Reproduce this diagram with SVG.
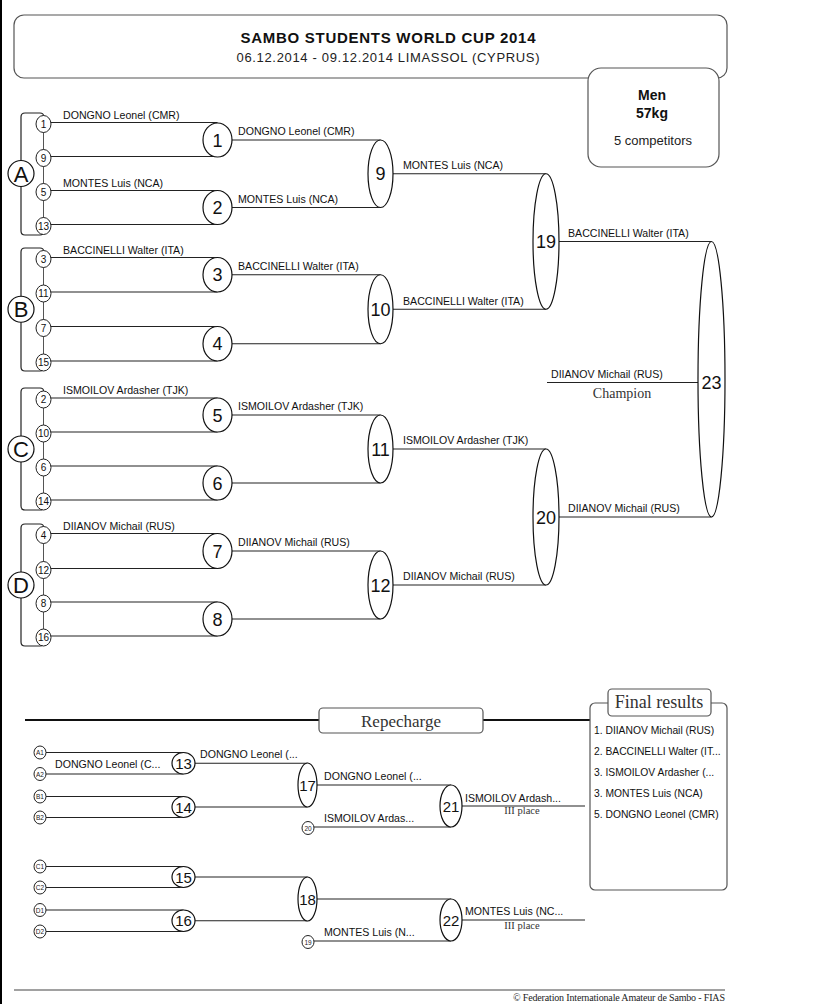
<svg xmlns="http://www.w3.org/2000/svg" width="819" height="1004" viewBox="0 0 819 1004">
<style>
.bg{fill:#fff}
.ln{stroke:#222;stroke-width:1.2;fill:none}
.thin{stroke:#555;stroke-width:1;fill:none}
.thick{stroke:#111;stroke-width:2;fill:none}
.el{fill:#fff;stroke:#111;stroke-width:1.2}
.sm{fill:#fff;stroke:#222;stroke-width:1}
.box{fill:#fff;stroke:#555;stroke-width:1.2}
.name{font-family:"Liberation Sans",Arial,sans-serif;font-size:10.6px;fill:#111}
.res{font-family:"Liberation Sans",Arial,sans-serif;font-size:10.3px;fill:#111}
.rname{font-family:"Liberation Sans",Arial,sans-serif;font-size:10.6px;fill:#111}
.seed{font-family:"Liberation Sans",Arial,sans-serif;font-size:10px;fill:#111;text-anchor:middle}
.tiny{font-family:"Liberation Sans",Arial,sans-serif;font-size:6.5px;fill:#222;text-anchor:middle}
.num{font-family:"Liberation Sans",Arial,sans-serif;font-size:18px;fill:#111;text-anchor:middle}
.rnum{font-family:"Liberation Sans",Arial,sans-serif;font-size:15px;fill:#111;text-anchor:middle}
.pool{font-family:"Liberation Sans",Arial,sans-serif;font-size:22px;fill:#111;text-anchor:middle}
.serif{font-family:"Liberation Serif","Times New Roman",serif;fill:#333;text-anchor:middle}
</style>
<rect class="bg" x="0" y="0" width="819" height="1004"/>
<rect x="0" y="0" width="2" height="1004" fill="#000"/>

<g id="header">
<rect class="box" x="14" y="15" width="713" height="63" rx="10"/>
<text x="388" y="43" text-anchor="middle" font-family="Liberation Sans,Arial,sans-serif" font-size="15" font-weight="bold" fill="#111" textLength="295">SAMBO STUDENTS WORLD CUP 2014</text>
<text x="388" y="62" text-anchor="middle" font-family="Liberation Sans,Arial,sans-serif" font-size="13" fill="#222" textLength="303">06.12.2014 - 09.12.2014 LIMASSOL  (CYPRUS)</text>
</g>
<g id="category">
<rect class="box" x="588" y="68" width="131" height="99" rx="13"/>
<text x="652" y="100" text-anchor="middle" font-family="Liberation Sans,Arial,sans-serif" font-size="14" font-weight="bold" fill="#111">Men</text>
<text x="652" y="118" text-anchor="middle" font-family="Liberation Sans,Arial,sans-serif" font-size="14" font-weight="bold" fill="#111">57kg</text>
<text x="653" y="145" text-anchor="middle" font-family="Liberation Sans,Arial,sans-serif" font-size="13" fill="#222">5 competitors</text>
</g>

<g id="connectors">
<path class="ln" d="M43.5 116 Q43.5 113 40 113 L25 113 Q21 113 21 117 L21 231 Q21 235 25 235 L40 235 Q43.5 235 43.5 232"/>
<path class="ln" d="M43.5 251 Q43.5 248 40 248 L25 248 Q21 248 21 252 L21 367 Q21 371 25 371 L40 371 Q43.5 371 43.5 368"/>
<path class="ln" d="M43.5 391 Q43.5 388 40 388 L25 388 Q21 388 21 392 L21 506 Q21 510 25 510 L40 510 Q43.5 510 43.5 507"/>
<path class="ln" d="M43.5 527 Q43.5 524 40 524 L25 524 Q21 524 21 528 L21 642 Q21 646 25 646 L40 646 Q43.5 646 43.5 643"/>
<line class="thin" x1="43.5" y1="124" x2="43.5" y2="226"/>
<line class="thin" x1="43.5" y1="259" x2="43.5" y2="362"/>
<line class="thin" x1="43.5" y1="399" x2="43.5" y2="501"/>
<line class="thin" x1="43.5" y1="535" x2="43.5" y2="637"/>
<path class="ln" d="M50 122.5H217.5M50 156.5H217.5M50 190.5H217.5M50 224.5H217.5"/>
<path class="ln" d="M50 257.5H217.5M50 292H217.5M50 326.5H217.5M50 361H217.5"/>
<path class="ln" d="M50 398H217.5M50 432H217.5M50 466H217.5M50 500H217.5"/>
<path class="ln" d="M50 533.5H217.5M50 568.5H217.5M50 602H217.5M50 636H217.5"/>
<path class="ln" d="M217.5 140H380.5M217.5 207.5H380.5M217.5 274.75H380.5M217.5 343.75H380.5M217.5 415H380.5M217.5 483H380.5M217.5 551H380.5M217.5 619H380.5"/>
<path class="ln" d="M380.5 173.75H546M380.5 309.25H546M380.5 449H546M380.5 585H546"/>
<path class="ln" d="M546 241.5H711.5M546 517H711.5"/>
<line class="ln" x1="547" y1="382.5" x2="700" y2="382.5"/>
<line class="thick" x1="25" y1="720" x2="320" y2="720"/>
<line class="thick" x1="483" y1="720" x2="590" y2="720"/>
<path class="ln" d="M46 752.5H183.5M46 774H183.5M46 796.5H183.5M46 817.5H183.5M46 866.5H183.5M46 887.5H183.5M46 910H183.5M46 931.5H183.5"/>
<path class="ln" d="M183.5 763.25H307.5M183.5 807H307.5M183.5 877H307.5M183.5 920.75H307.5"/>
<path class="ln" d="M307.5 785H451M314 827H451M307.5 899H451M314 941H451"/>
<path class="ln" d="M451 806H585M451 920H585"/>
<line x1="14" y1="990" x2="725" y2="990" stroke="#444" stroke-width="1.2"/>
</g>

<g id="pool-A">
<circle class="el" cx="21" cy="173.5" r="13"/><text class="pool" x="21" y="181.5">A</text>
<ellipse class="sm" cx="43.5" cy="124" rx="7.5" ry="8.5"/><text class="seed" x="43.5" y="127.5">1</text>
<ellipse class="sm" cx="43.5" cy="158" rx="7.5" ry="8.5"/><text class="seed" x="43.5" y="161.5">9</text>
<ellipse class="sm" cx="43.5" cy="192" rx="7.5" ry="8.5"/><text class="seed" x="43.5" y="195.5">5</text>
<ellipse class="sm" cx="43.5" cy="226" rx="7.5" ry="8.5"/><text class="seed" x="43.5" y="229.5">13</text>
<text class="name" x="63" y="118.5">DONGNO Leonel (CMR)</text>
<text class="name" x="63" y="186.5">MONTES Luis (NCA)</text>
</g>
<g id="pool-B">
<circle class="el" cx="21" cy="309.25" r="13"/><text class="pool" x="21" y="317.25">B</text>
<ellipse class="sm" cx="43.5" cy="259" rx="7.5" ry="8.5"/><text class="seed" x="43.5" y="262.5">3</text>
<ellipse class="sm" cx="43.5" cy="293.5" rx="7.5" ry="8.5"/><text class="seed" x="43.5" y="297">11</text>
<ellipse class="sm" cx="43.5" cy="328" rx="7.5" ry="8.5"/><text class="seed" x="43.5" y="331.5">7</text>
<ellipse class="sm" cx="43.5" cy="362.5" rx="7.5" ry="8.5"/><text class="seed" x="43.5" y="366">15</text>
<text class="name" x="63" y="253.5">BACCINELLI Walter (ITA)</text>
</g>
<g id="pool-C">
<circle class="el" cx="21" cy="449" r="13"/><text class="pool" x="21" y="457">C</text>
<ellipse class="sm" cx="43.5" cy="399.5" rx="7.5" ry="8.5"/><text class="seed" x="43.5" y="403">2</text>
<ellipse class="sm" cx="43.5" cy="433.5" rx="7.5" ry="8.5"/><text class="seed" x="43.5" y="437">10</text>
<ellipse class="sm" cx="43.5" cy="467.5" rx="7.5" ry="8.5"/><text class="seed" x="43.5" y="471">6</text>
<ellipse class="sm" cx="43.5" cy="501.5" rx="7.5" ry="8.5"/><text class="seed" x="43.5" y="505">14</text>
<text class="name" x="63" y="394">ISMOILOV Ardasher (TJK)</text>
</g>
<g id="pool-D">
<circle class="el" cx="21" cy="585" r="13"/><text class="pool" x="21" y="593">D</text>
<ellipse class="sm" cx="43.5" cy="535" rx="7.5" ry="8.5"/><text class="seed" x="43.5" y="538.5">4</text>
<ellipse class="sm" cx="43.5" cy="570" rx="7.5" ry="8.5"/><text class="seed" x="43.5" y="573.5">12</text>
<ellipse class="sm" cx="43.5" cy="603.5" rx="7.5" ry="8.5"/><text class="seed" x="43.5" y="607">8</text>
<ellipse class="sm" cx="43.5" cy="637.5" rx="7.5" ry="8.5"/><text class="seed" x="43.5" y="641">16</text>
<text class="name" x="63" y="529.5">DIIANOV Michail (RUS)</text>
</g>

<g id="round1">
<ellipse class="el" cx="217.5" cy="140" rx="14.5" ry="17"/><text class="num" x="217.5" y="146.5">1</text>
<ellipse class="el" cx="217.5" cy="207.5" rx="14.5" ry="17"/><text class="num" x="217.5" y="214">2</text>
<ellipse class="el" cx="217.5" cy="274.75" rx="14.5" ry="17.25"/><text class="num" x="217.5" y="281.25">3</text>
<ellipse class="el" cx="217.5" cy="343.75" rx="14.5" ry="17.25"/><text class="num" x="217.5" y="350.25">4</text>
<ellipse class="el" cx="217.5" cy="415" rx="14.5" ry="17"/><text class="num" x="217.5" y="421.5">5</text>
<ellipse class="el" cx="217.5" cy="483" rx="14.5" ry="17"/><text class="num" x="217.5" y="489.5">6</text>
<ellipse class="el" cx="217.5" cy="551" rx="14.5" ry="17.5"/><text class="num" x="217.5" y="557.5">7</text>
<ellipse class="el" cx="217.5" cy="619" rx="14.5" ry="17"/><text class="num" x="217.5" y="625.5">8</text>
<text class="name" x="238" y="135">DONGNO Leonel (CMR)</text>
<text class="name" x="238" y="202.5">MONTES Luis (NCA)</text>
<text class="name" x="238" y="270">BACCINELLI Walter (ITA)</text>
<text class="name" x="238" y="410">ISMOILOV Ardasher (TJK)</text>
<text class="name" x="238" y="546">DIIANOV Michail (RUS)</text>
</g>
<g id="round2">
<ellipse class="el" cx="380.5" cy="173.75" rx="12.5" ry="33.75"/><text class="num" x="380.5" y="180.25">9</text>
<ellipse class="el" cx="380.5" cy="309.25" rx="12.5" ry="34.5"/><text class="num" x="380.5" y="315.75">10</text>
<ellipse class="el" cx="380.5" cy="449" rx="12.5" ry="34"/><text class="num" x="380.5" y="455.5">11</text>
<ellipse class="el" cx="380.5" cy="585" rx="12.5" ry="34"/><text class="num" x="380.5" y="591.5">12</text>
<text class="name" x="403" y="168.5">MONTES Luis (NCA)</text>
<text class="name" x="403" y="304.5">BACCINELLI Walter (ITA)</text>
<text class="name" x="403" y="444">ISMOILOV Ardasher (TJK)</text>
<text class="name" x="403" y="580">DIIANOV Michail (RUS)</text>
</g>
<g id="round3">
<ellipse class="el" cx="546" cy="241.5" rx="13" ry="67.75"/><text class="num" x="546" y="248">19</text>
<ellipse class="el" cx="546" cy="517" rx="13" ry="68"/><text class="num" x="546" y="523.5">20</text>
<text class="name" x="568" y="237">BACCINELLI Walter (ITA)</text>
<text class="name" x="568" y="512">DIIANOV Michail (RUS)</text>
</g>
<g id="final">
<ellipse class="el" cx="711.5" cy="379.25" rx="13.5" ry="137.75"/><text class="num" x="711.5" y="389">23</text>
<text class="name" x="551" y="378">DIIANOV Michail (RUS)</text>
<text class="serif" x="622" y="398" font-size="14" fill="#444">Champion</text>
</g>

<g id="repecharge-title">
<rect class="box" x="319" y="708" width="164" height="25" rx="4"/>
<text class="serif" x="401" y="727" font-size="17" fill="#222">Repecharge</text>
</g>
<g id="repecharge-seeds">
<ellipse class="sm" cx="40" cy="752.5" rx="6" ry="6.5"/><text class="tiny" x="40" y="755">A1</text>
<ellipse class="sm" cx="40" cy="774" rx="6" ry="6.5"/><text class="tiny" x="40" y="776.5">A2</text>
<ellipse class="sm" cx="40" cy="796.5" rx="6" ry="6.5"/><text class="tiny" x="40" y="799">B1</text>
<ellipse class="sm" cx="40" cy="817.5" rx="6" ry="6.5"/><text class="tiny" x="40" y="820">B2</text>
<ellipse class="sm" cx="40" cy="866.5" rx="6" ry="6.5"/><text class="tiny" x="40" y="869">C1</text>
<ellipse class="sm" cx="40" cy="887.5" rx="6" ry="6.5"/><text class="tiny" x="40" y="890">C2</text>
<ellipse class="sm" cx="40" cy="910" rx="6" ry="6.5"/><text class="tiny" x="40" y="912.5">D1</text>
<ellipse class="sm" cx="40" cy="931.5" rx="6" ry="6.5"/><text class="tiny" x="40" y="934">D2</text>
<ellipse class="sm" cx="308" cy="828" rx="6" ry="6.5"/><text class="tiny" x="308" y="830.5">20</text>
<ellipse class="sm" cx="308" cy="942" rx="6" ry="6.5"/><text class="tiny" x="308" y="944.5">19</text>
<text class="rname" x="55" y="768">DONGNO Leonel (C...</text>
</g>
<g id="repecharge-matches">
<ellipse class="el" cx="183.5" cy="763.25" rx="11.5" ry="10.75"/><text class="rnum" x="183.5" y="768.75">13</text>
<ellipse class="el" cx="183.5" cy="807" rx="11.5" ry="10.5"/><text class="rnum" x="183.5" y="812.5">14</text>
<ellipse class="el" cx="183.5" cy="877" rx="11.5" ry="10.5"/><text class="rnum" x="183.5" y="882.5">15</text>
<ellipse class="el" cx="183.5" cy="920.75" rx="11.5" ry="10.75"/><text class="rnum" x="183.5" y="926.25">16</text>
<ellipse class="el" cx="307.5" cy="785" rx="9.5" ry="22"/><text class="rnum" x="307.5" y="790.5">17</text>
<ellipse class="el" cx="307.5" cy="899" rx="9.5" ry="22"/><text class="rnum" x="307.5" y="904.5">18</text>
<ellipse class="el" cx="451" cy="806" rx="11" ry="21"/><text class="rnum" x="451" y="811.5">21</text>
<ellipse class="el" cx="451" cy="920" rx="11" ry="21"/><text class="rnum" x="451" y="925.5">22</text>
<text class="rname" x="200" y="758">DONGNO Leonel (...</text>
<text class="rname" x="324" y="780">DONGNO Leonel (...</text>
<text class="rname" x="324" y="822">ISMOILOV Ardas...</text>
<text class="rname" x="465" y="802">ISMOILOV Ardash...</text>
<text class="serif" x="522" y="814" font-size="10.5" fill="#555">III place</text>
<text class="rname" x="324" y="936">MONTES Luis (N...</text>
<text class="rname" x="465" y="915">MONTES Luis (NC...</text>
<text class="serif" x="522" y="929" font-size="10.5" fill="#555">III place</text>
</g>

<g id="final-results">
<rect class="box" x="590" y="703" width="137" height="187" rx="5"/>
<rect class="box" x="608" y="689" width="103" height="27" rx="4"/>
<text class="serif" x="659" y="708" font-size="18" fill="#222">Final results</text>
<text class="res" x="594" y="734">1. DIIANOV Michail (RUS)</text>
<text class="res" x="594" y="755">2. BACCINELLI Walter (IT...</text>
<text class="res" x="594" y="776">3. ISMOILOV Ardasher (...</text>
<text class="res" x="594" y="797">3. MONTES Luis (NCA)</text>
<text class="res" x="594" y="818">5. DONGNO Leonel (CMR)</text>
</g>

<g id="footer">
<text x="725" y="1001" text-anchor="end" font-family="Liberation Serif,Times New Roman,serif" font-size="10" fill="#222" textLength="212">© Federation Internationale Amateur de Sambo - FIAS</text>
</g>
</svg>
